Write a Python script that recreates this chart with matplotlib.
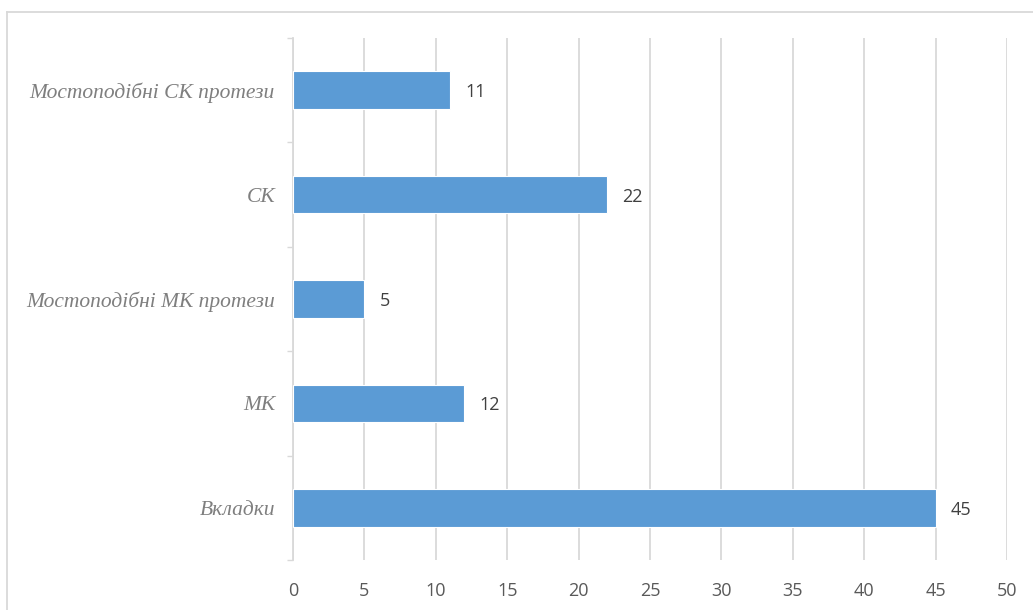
import matplotlib
matplotlib.use("Agg")
import matplotlib.pyplot as plt
from matplotlib.lines import Line2D

categories = ["Вкладки", "МК", "Мостоподібні МК протези", "СК", "Мостоподібні СК протези"]
values = [45, 12, 5, 22, 11]
x_ticks = [0, 5, 10, 15, 20, 25, 30, 35, 40, 45, 50]

W, H = 1033, 610
fig = plt.figure(figsize=(W / 100, H / 100), dpi=100)
ax = fig.add_axes([293 / W, 1 - 560 / H, (1007 - 293) / W, (560 - 38) / H])

pos = list(range(len(categories)))
ax.barh(pos, values, height=0.36, color="#5B9BD5", edgecolor="white",
        linewidth=0.8, zorder=3)

for p, v in zip(pos, values):
    ax.annotate(str(v), xy=(v, p), xytext=(11, 0), textcoords="offset points",
                va="center_baseline", ha="left", fontsize=13, family="Open Sans",
                color="#404040")

ax.set_xlim(0, 50)
ax.set_ylim(-0.5, len(categories) - 0.5)
ax.set_xticks(x_ticks)
ax.set_xticklabels([str(t) for t in x_ticks], family="Open Sans",
                   fontsize=13, color="#595959")
ax.set_yticks(pos)
ax.set_yticklabels(categories, family="Liberation Serif", style="italic",
                   fontsize=15.5, color="#7F7F7F")
ax.set_yticks([p - 0.5 for p in range(len(categories) + 1)], minor=True)
ax.tick_params(axis="y", which="major", length=0, pad=13)
ax.tick_params(axis="y", which="minor", length=4.5, color="#D9D9D9", width=1)
ax.tick_params(axis="x", length=0, pad=15.5)

ax.grid(axis="x", color="#D9D9D9", linewidth=1.3, zorder=0)
ax.set_axisbelow(True)
for s in ["top", "right", "bottom"]:
    ax.spines[s].set_visible(False)
ax.spines["left"].set_color("#D9D9D9")
ax.spines["left"].set_linewidth(1.3)

# chart area frame (top and left edges)
fig.add_artist(Line2D([7 / W, 1.01], [1 - 11.5 / H, 1 - 11.5 / H],
                      transform=fig.transFigure, color="#D9D9D9", linewidth=1.3))
fig.add_artist(Line2D([7 / W, 7 / W], [1 - 11.5 / H, -0.01],
                      transform=fig.transFigure, color="#D9D9D9", linewidth=1.3))

fig.savefig("out.png", dpi=100, facecolor="white")
